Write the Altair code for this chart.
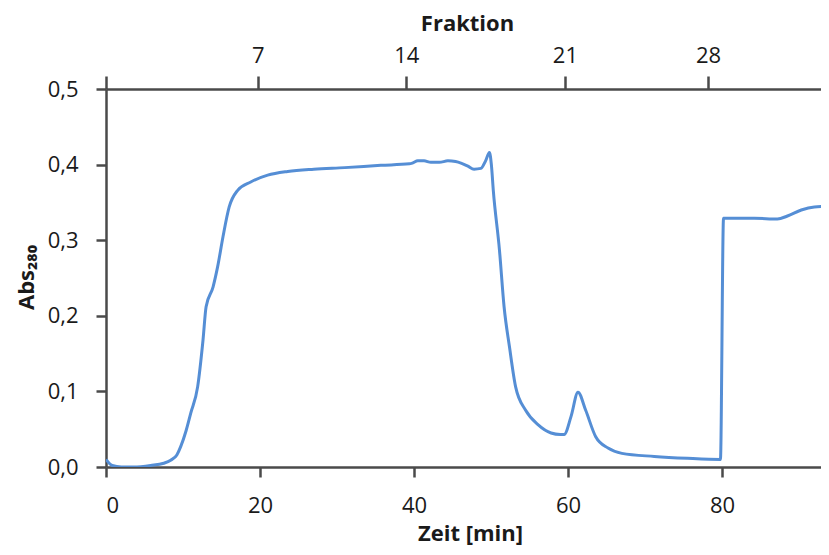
import json
import altair as alt
import pandas as pd

# Elution profile
time_min = [0, 0.8, 2, 3.6, 5.8, 7.5, 8.4, 9.2, 9.7, 10.4, 11, 11.9, 12.6, 13.0, 13.9,
            14.5, 15.2, 16.0, 17.1, 18.8, 21.0, 23.6, 27, 31, 35.7, 39.4, 39.8, 40.5,
            41.3, 42.2, 43.3, 44.4, 45.4, 46.1, 47.0, 47.8, 48.7, 49.3, 49.8, 50.05,
            50.3, 51.1, 51.7, 52.4, 53.2, 54.5, 56.1, 57.8, 59.0, 59.5, 60.4, 61.3,
            62.3, 63.6, 65.2, 67, 71.2, 75.5, 79.8, 80.2, 84.2, 87.2, 88.5, 90.3, 92, 94]
abs280 = [0.010, 0.002, 0.0, 0.0, 0.002, 0.005, 0.009, 0.016, 0.027, 0.048, 0.071,
          0.106, 0.168, 0.212, 0.238, 0.265, 0.305, 0.344, 0.366, 0.377, 0.386, 0.391,
          0.394, 0.396, 0.399, 0.401, 0.402, 0.405, 0.405, 0.403, 0.403, 0.405, 0.404,
          0.402, 0.398, 0.394, 0.395, 0.405, 0.416, 0.400, 0.366, 0.287, 0.212, 0.159,
          0.106, 0.075, 0.056, 0.045, 0.043, 0.043, 0.067, 0.099, 0.075, 0.040, 0.025,
          0.018, 0.014, 0.0115, 0.010, 0.329, 0.329, 0.328, 0.332, 0.340, 0.344, 0.345]

# Top axis: fraction numbers at their times
frac_labels = ["", "7", "14", "21", "28"]
frac_time = [0, 19.7, 39.0, 59.6, 78.2]

x_ticks = [0, 20, 40, 60, 80]
y_ticks = [0, 0.1, 0.2, 0.3, 0.4, 0.5]

df = pd.DataFrame({"t": time_min, "a": abs280})
fdf = pd.DataFrame({"t": frac_time, "lab": frac_labels})

xscale = alt.Scale(domain=[0, 92.86], nice=False, zero=False)
yscale = alt.Scale(domain=[0, 0.5], nice=False)

FONT = "Open Sans"
AX = "#4a4a4a"

line = alt.Chart(df).mark_line(
    color="#558ED5", strokeWidth=3, interpolate="monotone", clip=True
).encode(
    x=alt.X("t:Q", scale=xscale, axis=alt.Axis(
        orient="bottom", values=x_ticks, format="d", title="Zeit [min]",
        tickSize=10, labelBaseline="alphabetic", labelPadding=35,
        titleX=364, titleY=73, titleBaseline="alphabetic", titleAlign="center")),
    y=alt.Y("a:Q", scale=yscale, axis=alt.Axis(
        values=y_ticks, title="Abs₂₈₀",
        labelExpr="replace(format(datum.value, '.1f'), '.', ',')",
        tickSize=10, labelPadding=18, labelBaseline="middle",
        titleX=-73, titleY=188, titleAngle=270, titleBaseline="alphabetic",
        titleAlign="center")),
)

label_expr = f"{json.dumps(frac_labels)}[indexof({json.dumps(frac_time)}, datum.value)]"

top = alt.Chart(fdf).mark_point(opacity=0).encode(
    x=alt.X("t:Q", scale=xscale, axis=alt.Axis(
        orient="top", values=frac_time, labelExpr=label_expr, title="Fraktion",
        tickSize=13, labelBaseline="alphabetic", labelPadding=14,
        titleX=361, titleY=-59, titleBaseline="alphabetic", titleAlign="center")),
)

chart = alt.layer(line, top).resolve_scale(x="shared").resolve_axis(x="independent").properties(
    width=715, height=378,
    autosize=alt.AutoSizeParams(type="none"),
    padding={"left": 98, "top": 81, "right": 0, "bottom": 80},
).configure_view(strokeWidth=0).configure_axis(
    grid=False,
    domainColor=AX, domainWidth=2.5,
    tickColor=AX, tickWidth=2.5,
    labelFont=FONT, labelFontSize=22, labelColor="#1a1a1a",
    titleFont=FONT, titleFontSize=22, titleFontWeight="bold", titleColor="#1a1a1a",
)

chart.save("out.html", embed_options={"renderer": "svg", "actions": False})
